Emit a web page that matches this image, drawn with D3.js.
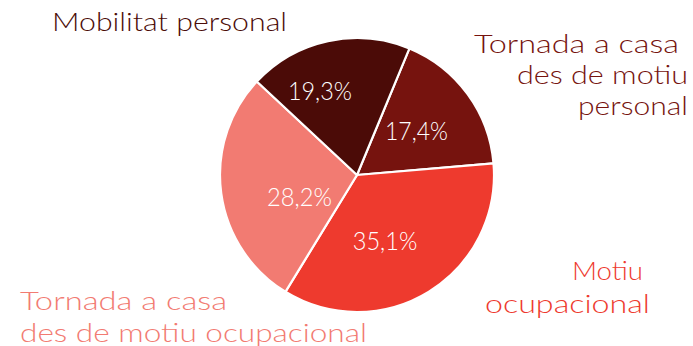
<!DOCTYPE html>
<html>
<head>
<meta charset="utf-8">
<script src="https://cdn.jsdelivr.net/npm/d3@7"></script>
<style>
  html, body { margin: 0; padding: 0; background: #ffffff; }
  svg { display: block; }
  text { font-family: Lato, "Open Sans", sans-serif; font-weight: 300; }
</style>
</head>
<body>
<svg id="chart" width="693" height="346"></svg>
<script>
// Trip purposes and their shares (%)
const categories = [
  "Tornada a casa des de motiu personal",
  "Motiu ocupacional",
  "Tornada a casa des de motiu ocupacional",
  "Mobilitat personal"
];
const shares = [17.4, 35.1, 28.2, 19.3];
const shareLabels = ["17,4%", "35,1%", "28,2%", "19,3%"];
const categoryLines = [
  ["Tornada a casa", "des de motiu", "personal"],
  ["Motiu", "ocupacional"],
  ["Tornada a casa", "des de motiu ocupacional"],
  ["Mobilitat personal"]
];

// Styling and layout
const colors = ["#76130e", "#ee3a2e", "#f27b72", "#4b0b07"];
const cx = 357, cy = 175, radius = 137;
const startAngle = 22.5 * Math.PI / 180;
const fontSize = 25;

// Value label anchors, as offsets from the pie centre
const valueOffsets = [[59.5, -44.5], [28, 66], [-57.5, 22], [-37, -84.5]];
const valueWidths = [63, 64.5, 65, 64];

// Category label blocks: edge x, alignment, first baseline, line step, line widths
const labelBlocks = [
  { x: 688, align: "end",   y: 53,  step: 31, widths: [205, 171, 110], trail: [9, 0, 0] },
  { x: 650, align: "end",   y: 280, step: 33, widths: [71, 165], trail: [7, 0] },
  { x: 20,  align: "start", y: 310, step: 32, widths: [207, 347], trail: [0, 0] },
  { x: 52,  align: "start", y: 31,  step: 31, widths: [235], trail: [0] }
];

const svg = d3.select("#chart");
const g = svg.append("g").attr("transform", `translate(${cx},${cy})`);

const pie = d3.pie()
  .sort(null)
  .value(d => d)
  .startAngle(startAngle)
  .endAngle(startAngle + 2 * Math.PI);

const arc = d3.arc().innerRadius(0).outerRadius(radius);
const arcs = pie(shares);

g.selectAll("path.slice")
  .data(arcs)
  .join("path")
  .attr("class", "slice")
  .attr("d", arc)
  .attr("fill", (d, i) => colors[i])
  .attr("stroke", "#ffffff")
  .attr("stroke-width", 2.2)
  .attr("stroke-linejoin", "round");

// Percentage labels inside the slices
g.selectAll("text.value")
  .data(arcs)
  .join("text")
  .attr("class", "value")
  .attr("x", (d, i) => valueOffsets[i][0] - valueWidths[i] / 2)
  .attr("y", (d, i) => valueOffsets[i][1])
  .attr("dy", "0.36em")
  .attr("textLength", (d, i) => valueWidths[i])
  .attr("lengthAdjust", "spacingAndGlyphs")
  .attr("fill", "#ffffff")
  .attr("font-size", fontSize)
  .text((d, i) => shareLabels[i]);

// Category labels around the pie
categories.forEach((name, i) => {
  const b = labelBlocks[i];
  const t = svg.append("text")
    .attr("class", "category")
    .attr("fill", colors[i])
    .attr("font-size", fontSize);
  categoryLines[i].forEach((line, j) => {
    const w = b.widths[j];
    const x0 = b.align === "end" ? b.x - b.trail[j] - w : b.x;
    t.append("tspan")
      .attr("x", x0)
      .attr("y", b.y + j * b.step)
      .attr("textLength", w)
      .attr("lengthAdjust", "spacingAndGlyphs")
      .text(line);
  });
});
</script>
</body>
</html>
